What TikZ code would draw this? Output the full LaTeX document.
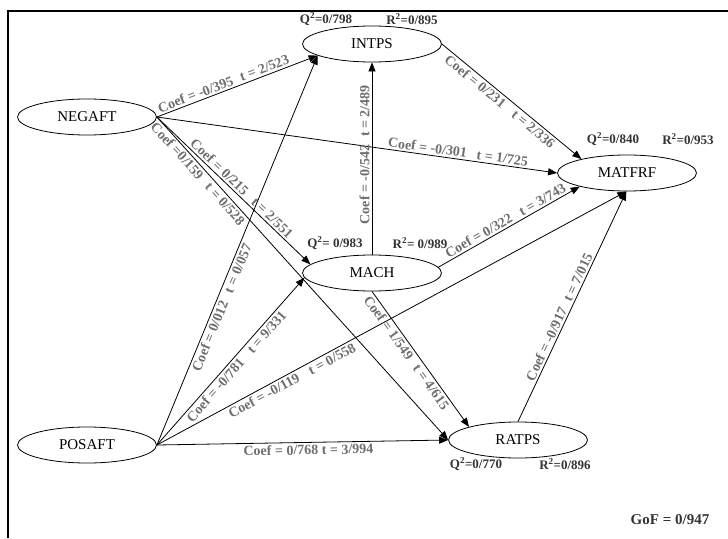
\documentclass[tikz,border=0pt]{standalone}
\usepackage{fontspec}
\setmainfont{Liberation Serif}
\usetikzlibrary{shapes.geometric, arrows.meta}
\definecolor{labelgray}{HTML}{6E6E6E}
\definecolor{statgray}{HTML}{333333}

\begin{document}
\begin{tikzpicture}[x=1pt, y=-1pt]
        \tikzstyle{var} = [ellipse, draw=black, line width=0.8pt, minimum width=139pt, minimum height=36pt, inner sep=0pt, font=\fontsize{15}{18}\selectfont]
        \tikzstyle{link} = [line width=0.8pt, -{Triangle[length=9pt, width=7pt]}]
        \tikzstyle{coef} = [sloped, text=labelgray, inner sep=2pt, font=\bfseries\fontsize{14}{16}\selectfont]
        \tikzstyle{stat} = [text=statgray, inner sep=0pt, font=\bfseries\fontsize{13}{15}\selectfont]
        \useasboundingbox (0,0) rectangle (728,538);
        \draw [line width=1.5pt] (8,538) -- (8,11) -- (728,11);
        % latent variables
        \node (negaft) [var] at (87,117) {NEGAFT};
        \node (posaft) [var] at (87,445) {POSAFT};
        \node (intps) [var] at (372,44) {INTPS};
        \node (mach) [var] at (372,273) {MACH};
        \node (matfrf) [var] at (627,173) {MATFRF};
        \node (ratps) [var] at (518,440) {RATPS};
        % Q2 / R2
        \node (q-intps) [stat] at (326,19) {Q\textsuperscript{2}=0/798};
        \node (r-intps) [stat] at (412,19) {R\textsuperscript{2}=0/895};
        \node (q-matfrf) [stat] at (613,139) {Q\textsuperscript{2}=0/840};
        \node (r-matfrf) [stat] at (688,139) {R\textsuperscript{2}=0/953};
        \node (q-mach) [stat] at (335,243) {Q\textsuperscript{2}= 0/983};
        \node (r-mach) [stat] at (420,243) {R\textsuperscript{2}= 0/989};
        \node (q-ratps) [stat] at (476,464) {Q\textsuperscript{2}=0/770};
        \node (r-ratps) [stat] at (565,464) {R\textsuperscript{2}=0/896};
        \node (gof) [stat, font=\bfseries\fontsize{15}{17}\selectfont] at (670,520) {GoF = 0/947};
        % paths
        \draw [link] (negaft.east) -- node [coef, above, pos=0.43] {Coef = -0/395\hspace{8pt}t = 2/523} (intps.192);
        \draw [link] (negaft.east) -- node [coef, above, pos=0.75] {Coef = -0/301\hspace{10pt}t = 1/725} (matfrf.west);
        \draw [link] (negaft.east) -- node [coef, above, pos=0.52] {Coef = 0/215\hspace{10pt}t = 2/551} (mach.172);
        \draw [link] (negaft.east) -- node [coef, below, pos=0.16] {Coef =0/159\hspace{10pt}t = 0/528} (ratps.west);
        \draw [link] (posaft.east) -- node [coef, below, pos=0.36] {Coef = 0/012\hspace{10pt}t = 0/057} (intps.192);
        \draw [link] (posaft.east) -- node [coef, below, pos=0.5] {Coef = -0/781\hspace{12pt}t = 9/331} (mach.184);
        \draw [link] (posaft.east) -- node [coef, below, pos=0.28] {Coef = -0/119\hspace{12pt}t = 0/558} (matfrf.268);
        \draw [link] (posaft.east) -- node [coef, below, pos=0.52] {Coef = 0/768 t = 3/994} (ratps.west);
        \draw [link] (mach.north) -- node [coef, above, pos=0.52] {Coef = -0/542\hspace{8pt}t = 2/489} (intps.south);
        \draw [link] (intps.east) -- node [coef, below, pos=0.45] {Coef = 0/231\hspace{12pt}t = 2/336} (matfrf.163);
        \draw [link] (mach.5) -- node [coef, above, pos=0.5] {Coef = 0/322\hspace{10pt}t = 3/743} (matfrf.196);
        \draw [link] (mach.south) -- node [coef, below, pos=0.42] {Coef = 1/549\hspace{10pt}t = 4/615} (ratps.165);
        \draw [link] (ratps.north) -- node [coef, above, pos=0.44] {Coef = -0/917\hspace{8pt}t = 7/015} (matfrf.268);
\end{tikzpicture}
\end{document}
